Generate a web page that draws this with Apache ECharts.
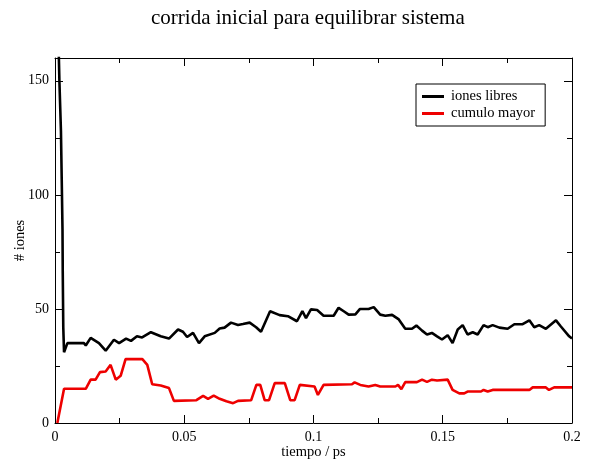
<!DOCTYPE html>
<html>
<head>
<meta charset="utf-8">
<script src="https://cdn.jsdelivr.net/npm/echarts@6/dist/echarts.min.js"></script>
<style>html,body{margin:0;padding:0;background:#fff;}#c{width:591px;height:461px;}</style>
</head>
<body>
<div id="c"></div>
<script>
var titulo = 'corrida inicial para equilibrar sistema';
var nombresSeries = ['iones libres', 'cumulo mayor'];
var xTicks = [0, 0.05, 0.1, 0.15, 0.2];
var yTicks = [0, 50, 100, 150];

var tiemposLibres = [0.0012,0.0017,0.0023,0.0026,0.0029,0.0030,0.0032,0.0035,0.0048,0.0112,0.0119,0.0138,0.0170,0.0196,0.0228,0.0248,0.0275,0.0294,0.0317,0.0337,0.0371,0.0409,0.0441,0.0476,0.0495,0.0511,0.0534,0.0557,0.0579,0.0618,0.0637,0.0656,0.0681,0.0708,0.0727,0.0753,0.0778,0.0797,0.0832,0.0869,0.0901,0.0936,0.0957,0.0971,0.0990,0.1014,0.1039,0.1078,0.1097,0.1117,0.1136,0.1162,0.1180,0.1213,0.1233,0.1258,0.1278,0.1304,0.1330,0.1355,0.1381,0.1398,0.1420,0.1439,0.1458,0.1478,0.1497,0.1519,0.1538,0.1558,0.1577,0.1596,0.1616,0.1635,0.1658,0.1674,0.1693,0.1719,0.1751,0.1777,0.1809,0.1835,0.1854,0.1873,0.1899,0.1938,0.1957,0.1989,0.2000];
var ionesLibres = [175,150,128,107,85,66,42,31,35,35,34,37.3,35,31.7,36.5,35,37,36,38,37.5,39.8,38,37,41,40,37.7,39.5,35,38,39.5,41.4,41.8,44,43,43.4,44,42,40,49,47.3,46.8,44.6,49,46,49.8,49.5,47,47,50.5,49,47.5,47.6,50,50,50.8,47.5,47,47.4,45.4,41.3,41.3,42.7,40.5,38.8,39.5,38,36.6,38.5,35,41,42.9,38.8,39.8,38.8,42.9,42,42.9,41.8,41.3,43.3,43.3,45,42,42.9,41.3,45,42.3,38,37];

var tiemposCumulo = [0.0009,0.0035,0.0119,0.0138,0.0157,0.0174,0.0196,0.0215,0.0235,0.0254,0.0273,0.0338,0.0357,0.0376,0.0409,0.0441,0.0460,0.0547,0.0573,0.0592,0.0614,0.0637,0.0663,0.0689,0.0708,0.0759,0.0779,0.0794,0.0811,0.0828,0.0850,0.0889,0.0910,0.0927,0.0947,0.1004,0.1017,0.1039,0.1149,0.1159,0.1181,0.1213,0.1239,0.1258,0.1317,0.1327,0.1340,0.1355,0.1400,0.1420,0.1439,0.1458,0.1478,0.1519,0.1538,0.1564,0.1583,0.1596,0.1648,0.1658,0.1674,0.1693,0.1835,0.1848,0.1899,0.1911,0.1931,0.2000];
var cumuloMayor = [0,15,15,19,19,22.3,22.6,25.5,19,20.7,28,28,25.5,17,16.4,15.3,9.7,10,11.9,10.6,12,10.6,9.5,8.7,9.7,10,16.7,16.7,10,10,17.5,17.5,10,10,16.7,16,12.3,16.7,17,17.8,16.7,16,16.7,16,16,16.7,14.8,17.9,17.9,19,18,19,18.6,19,14.5,13,13,13.8,13.8,14.5,13.8,14.5,14.5,15.6,15.6,14.5,15.6,15.6];

function pares(xs, ys){ var r=[]; for(var i=0;i<xs.length;i++) r.push([xs[i], ys[i]]); return r; }

var serif = 'Liberation Serif';
var chart = echarts.init(document.getElementById('c'), null, {renderer:'canvas'});
var tickStyle = {show:true, inside:true, length:8, lineStyle:{color:'#000', width:1}};
var minorStyle = {show:true, splitNumber:2, length:5, lineStyle:{color:'#000', width:1}};
chart.setOption({
  animation:false,
  backgroundColor:'#fff',
  title:{text:titulo, left:146, top:3, textStyle:{fontFamily:serif, fontWeight:'normal', fontSize:21, color:'#000'}},
  legend:{
    orient:'vertical', left:416, top:84, data:nombresSeries,
    borderColor:'#000', borderWidth:1, padding:[5,10,5,6], itemGap:2,
    itemWidth:22, itemHeight:3, icon:'rect',
    textStyle:{fontFamily:serif, fontSize:14.5, color:'#000', padding:[0,0,0,2]}
  },
  grid:{left:55, right:19, top:58, bottom:38, show:false, containLabel:false, outerBoundsMode:'none'},
  xAxis:[{
    type:'value', min:xTicks[0], max:xTicks[xTicks.length-1], interval:xTicks[1]-xTicks[0],
    name:'tiempo / ps', nameLocation:'middle', nameGap:22, nameMoveOverlap:false,
    nameTextStyle:{fontFamily:serif, fontSize:14.5, color:'#000'},
    axisLine:{show:true, onZero:false, lineStyle:{color:'#000', width:1}},
    axisTick:tickStyle, minorTick:minorStyle,
    axisLabel:{fontFamily:serif, fontSize:14, color:'#000', margin:7},
    splitLine:{show:false}
  },{
    type:'value', position:'top', min:xTicks[0], max:xTicks[xTicks.length-1], interval:xTicks[1]-xTicks[0],
    axisLine:{show:true, onZero:false, lineStyle:{color:'#000', width:1}},
    axisTick:tickStyle, minorTick:minorStyle, axisLabel:{show:false}, splitLine:{show:false}
  }],
  yAxis:[{
    type:'value', min:0, max:160, interval:yTicks[1]-yTicks[0],
    name:'# iones', nameLocation:'middle', nameGap:27, nameMoveOverlap:false,
    nameTextStyle:{fontFamily:serif, fontSize:14.5, color:'#000'},
    axisLine:{show:true, onZero:false, lineStyle:{color:'#000', width:1}},
    axisTick:tickStyle, minorTick:minorStyle,
    axisLabel:{fontFamily:serif, fontSize:14, color:'#000', margin:6, showMaxLabel:false},
    splitLine:{show:false}
  },{
    type:'value', position:'right', min:0, max:160, interval:yTicks[1]-yTicks[0],
    axisLine:{show:true, onZero:false, lineStyle:{color:'#000', width:1}},
    axisTick:tickStyle, minorTick:minorStyle, axisLabel:{show:false}, splitLine:{show:false}
  }],
  series:[{
    name:nombresSeries[0], type:'line', xAxisIndex:0, yAxisIndex:0,
    data:pares(tiemposLibres, ionesLibres), showSymbol:false, symbol:'none', clip:true,
    lineStyle:{color:'#000', width:2.6}, itemStyle:{color:'#000'}
  },{
    name:nombresSeries[1], type:'line', xAxisIndex:0, yAxisIndex:0,
    data:pares(tiemposCumulo, cumuloMayor), showSymbol:false, symbol:'none', clip:true,
    lineStyle:{color:'#ee0000', width:2.6}, itemStyle:{color:'#ee0000'}
  }]
});
</script>
</body>
</html>
